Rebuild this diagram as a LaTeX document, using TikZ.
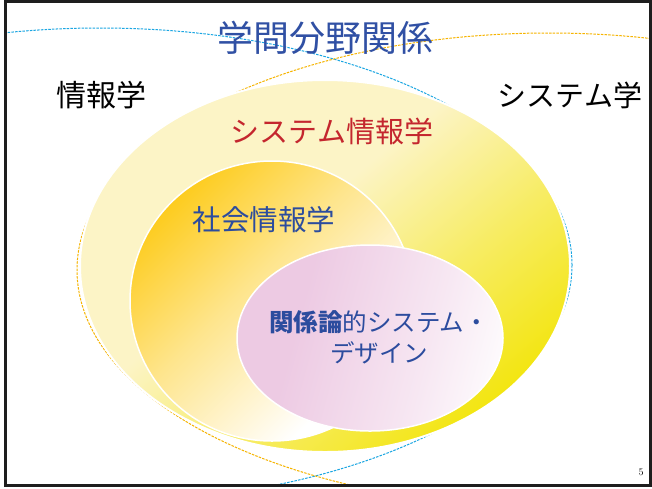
\documentclass[tikz,border=0pt]{standalone}
\usepackage{fontspec}
\newfontfamily\jp{Noto Sans CJK JP}
\definecolor{titleblue}{HTML}{3050A4}
\definecolor{textblue}{HTML}{2C4C9E}
\definecolor{textred}{HTML}{C4262E}
\definecolor{dashblue}{HTML}{1BA6E2}
\definecolor{dashyellow}{HTML}{F6B400}
\definecolor{ycream}{HTML}{FCF4C6}
\definecolor{ybright}{HTML}{F2E400}
\definecolor{gold}{HTML}{FDC500}
\definecolor{pinkl}{HTML}{EDCAE3}
\definecolor{framec}{HTML}{1E1E1E}
\pgfdeclareverticalshading{bigsh}{100bp}{color(0bp)=(ybright); color(22bp)=(ybright); color(40bp)=(ybright!50!ycream); color(56bp)=(ycream); color(100bp)=(ycream)}
\pgfdeclareverticalshading{medsh}{100bp}{color(0bp)=(white); color(30bp)=(white); color(55bp)=(gold!45!white); color(76bp)=(gold!90!white); color(100bp)=(gold)}
\pgfdeclarehorizontalshading{pinksh}{100bp}{color(0bp)=(pinkl); color(35bp)=(pinkl); color(62bp)=(pinkl!45!white); color(80bp)=(white); color(100bp)=(white)}
\tikzset{
  dashring/.style={line width=1pt, dash pattern=on 2.5pt off 1.2pt},
  jptext/.style={inner sep=0pt, align=center},
}
\begin{document}
\begin{tikzpicture}[x=1pt,y=-1pt]
\useasboundingbox (0,0) rectangle (652,488);
\fill[white] (0,0) rectangle (652,488);
% dashed Venn rings
\begin{scope}
\clip (5,1.5) rectangle (650,485);
\draw[dashring, draw=dashblue] (100,265) ellipse [x radius=472pt, y radius=237pt];
\draw[dashring, draw=dashyellow] (549,270) ellipse [x radius=472pt, y radius=237pt];
\end{scope}
% big ellipse
\shadedraw[shading=bigsh, shading angle=40, draw=white, line width=2pt] (325,266) ellipse [x radius=245pt, y radius=186pt];
% medium ellipse
\shadedraw[shading=medsh, shading angle=45, draw=white, line width=1.5pt] (272,301) ellipse [x radius=142pt, y radius=140pt];
% pink ellipse
\shadedraw[shading=pinksh, shading angle=-15, draw=white, line width=1.5pt] (370,338) ellipse [x radius=133pt, y radius=93pt];
% texts
\node[jptext, font=\jp\fontsize{36}{36}\selectfont, text=titleblue] (title) at (325,38) {学問分野関係};
\node[jptext, font=\jp\fontsize{30}{30}\selectfont, text=black] (info) at (101,95) {情報学};
\node[jptext, font=\jp\fontsize{29}{29}\selectfont, text=black] (sys) at (570,95) {システム学};
\node[jptext, font=\jp\fontsize{29}{29}\selectfont, text=textred] (sysinfo) at (332,131) {システム情報学};
\node[jptext, font=\jp\fontsize{28.5}{28.5}\selectfont, text=textblue] (social) at (264,220) {社会情報学};
\node[jptext, font=\jp\fontsize{24.5}{31}\selectfont, text=textblue] (rel) at (379,337) {\textbf{関係論}的システム・\\デザイン};
\node[inner sep=0pt, font=\fontsize{10}{10}\selectfont] (page) at (641,472) {5};
% frame
\draw[framec, line width=3pt] (5,1.5) rectangle (650,485);
\end{tikzpicture}
\end{document}
